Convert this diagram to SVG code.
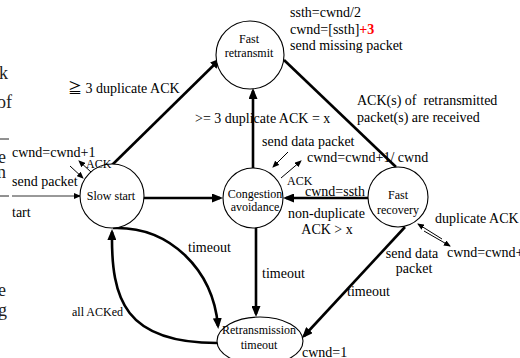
<svg xmlns="http://www.w3.org/2000/svg" width="520" height="358" viewBox="0 0 520 358">
<defs>
<style>
text{font-family:'Liberation Serif','Times New Roman','DejaVu Serif',serif;fill:#000;white-space:pre}
.cjk{font-family:'Noto Sans CJK JP','Noto Sans CJK SC',sans-serif}
.lb{font-size:14px}
.nd{font-size:12px;text-anchor:middle}
.sm{font-size:12px}
.st{font-size:18px;fill:#222}
.node{fill:#fff;stroke:#000;stroke-width:1.1}
.thick{fill:none;stroke:#000;stroke-width:2.6;marker-end:url(#ah)}
.thin{fill:none;stroke:#000;stroke-width:1;marker-end:url(#as)}
</style>
<marker id="ah" markerUnits="userSpaceOnUse" markerWidth="11" markerHeight="9" refX="8" refY="4.5" orient="auto">
<path d="M0,0 L11,4.5 L0,9 z" fill="#000"/>
</marker>
<marker id="as" markerUnits="userSpaceOnUse" markerWidth="7" markerHeight="6" refX="6" refY="3" orient="auto">
<path d="M0,0 L7,3 L0,6 z" fill="#000"/>
</marker>
</defs>
<rect width="520" height="358" fill="#fff"/>

<g id="background-fragments">
<text class="st" x="-1" y="79">k</text>
<text class="st" x="-3" y="108">of</text>
<line x1="0" y1="139" x2="9" y2="139" stroke="#222" stroke-width="1"/>
<text class="st" x="-2" y="163">e</text>
<text class="st" x="-3" y="178">n</text>
<line x1="0" y1="196" x2="9" y2="196" stroke="#222" stroke-width="1"/>
<text class="st" x="-2" y="296">e</text>
<text class="st" x="-2" y="316">g</text>
</g>

<g id="connectors">
<path class="thick" d="M110,167 L219,60"/>
<path class="thick" d="M253,168 L253,91"/>
<path d="M284,60 L396,167" fill="none" stroke="#000" stroke-width="2.6"/>
<path class="thick" d="M144,198 L220,198"/>
<path class="thick" d="M368,198 L286,198"/>
<path class="thick" d="M256,228 L256,314"/>
<path class="thick" d="M405,227 L304,336"/>
<path class="thick" d="M113,228 C170,226 213,270 218,326"/>
<path class="thick" d="M217,343 C125,343 111,300 112,232"/>
<path d="M12,196 L80,196" fill="none" stroke="#333" stroke-width="1" marker-end="url(#as)"/>
<path class="thin" d="M91,172 L79,161"/>
<path class="thin" d="M70,166 L83,178"/>
<path class="thin" d="M288,152 L273,167"/>
<path class="thin" d="M281,178 L301,161"/>
<path class="thin" d="M442,239 L418,224"/>
<path class="thin" d="M424,231 L450,246"/>
</g>

<g id="fast-retransmit">
<circle class="node" cx="250" cy="55" r="34"/>
<text class="nd" x="249" y="43">Fast</text>
<text class="nd" x="249" y="57">retransmit</text>
</g>
<g id="slow-start">
<circle class="node" cx="112" cy="196" r="32"/>
<text class="nd" x="111" y="200">Slow start</text>
</g>
<g id="congestion-avoidance">
<circle class="node" cx="253" cy="198" r="30"/>
<text class="nd" x="255" y="198">Congestion</text>
<text class="nd" x="255" y="211">avoidance</text>
</g>
<g id="fast-recovery">
<circle class="node" cx="398" cy="197" r="30"/>
<text class="nd" x="398" y="199">Fast</text>
<text class="nd" x="398" y="214">recovery</text>
</g>
<g id="retransmission-timeout">
<ellipse class="node" cx="260" cy="341" rx="43" ry="24"/>
<text class="nd" x="259" y="334" font-size="11.5">Retransmission</text>
<text class="nd" x="259" y="349">timeout</text>
</g>

<g id="labels">
<text class="lb" x="68" y="93"><tspan class="cjk">≧</tspan> 3 duplicate ACK</text>
<text class="lb" x="195" y="123">&gt;= 3 duplicate ACK = x</text>
<text class="lb" x="290" y="17">ssth=cwnd/2</text>
<text class="lb" x="290" y="34">cwnd=[ssth]<tspan fill="#ff0000" font-weight="bold">+3</tspan></text>
<text class="lb" x="290" y="50">send missing packet</text>
<text class="lb" x="357" y="105">ACK(s) of  retransmitted</text>
<text class="lb" x="357" y="122">packet(s) are received</text>
<text class="lb" x="262" y="146">send data packet</text>
<text class="lb" x="307" y="162">cwnd=cwnd+1/ cwnd</text>
<text class="sm" x="287" y="185">ACK</text>
<text class="lb" x="305" y="196">cwnd=ssth</text>
<text class="lb" x="288" y="218">non-duplicate</text>
<text class="lb" x="327" y="234" text-anchor="middle">ACK &gt; x</text>
<text class="lb" x="435" y="223">duplicate ACK</text>
<text class="lb" x="447" y="257">cwnd=cwnd+</text>
<text class="lb" x="412" y="258" text-anchor="middle">send data</text>
<text class="lb" x="414" y="273" text-anchor="middle">packet</text>
<text class="lb" x="347" y="296">timeout</text>
<text class="lb" x="262" y="278">timeout</text>
<text class="lb" x="188" y="252">timeout</text>
<text class="sm" x="72" y="316">all ACKed</text>
<text class="lb" x="302" y="357">cwnd=1</text>
<text class="lb" x="12" y="157">cwnd=cwnd+1</text>
<text class="sm" x="86" y="168">ACK</text>
<text class="lb" x="12" y="186">send packet</text>
<text class="lb" x="12" y="217">tart</text>
</g>
</svg>
